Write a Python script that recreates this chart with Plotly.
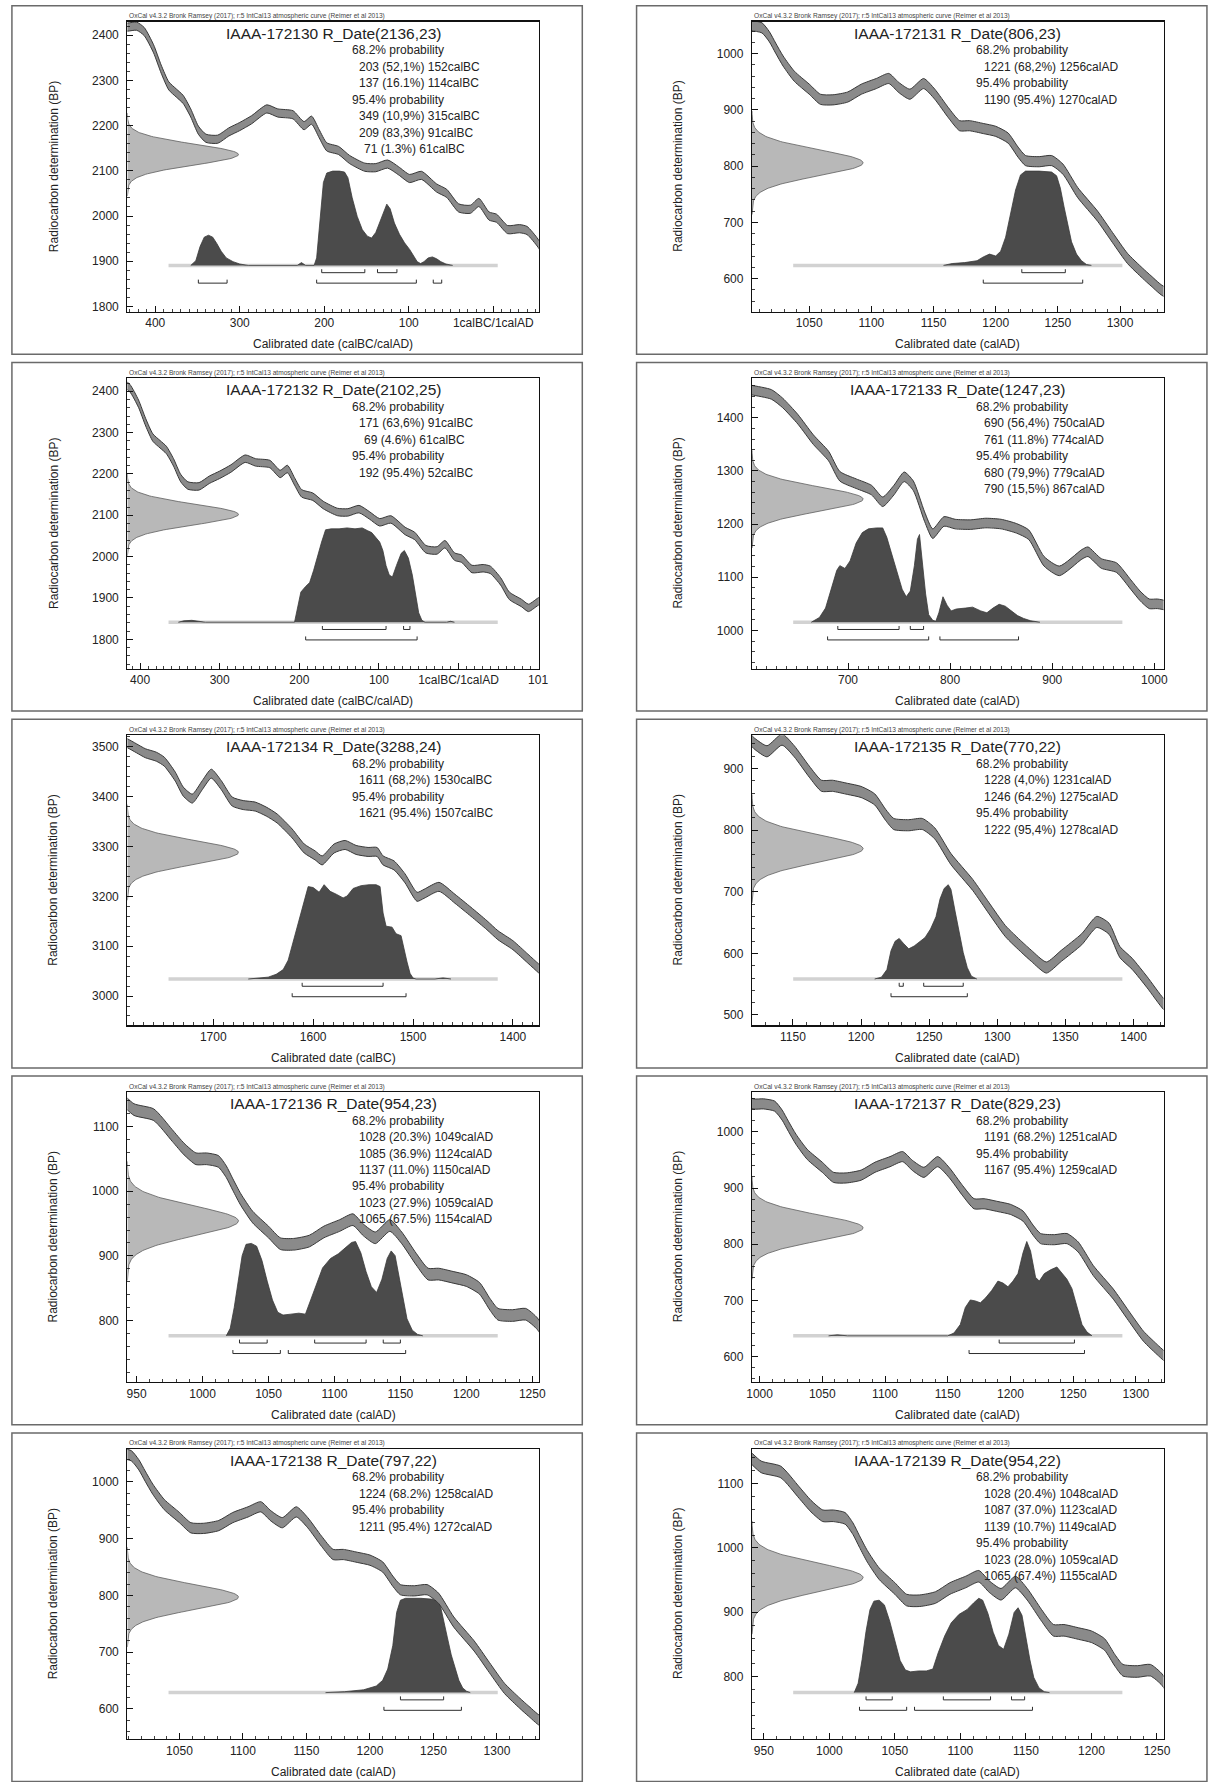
import numpy as np
import plotly.graph_objects as go

W, H = 1213, 1782
FONT = "Liberation Sans, Arial, sans-serif"

# ------------------------------------------------------------------ data
LAB_IDS = ["IAAA-172130", "IAAA-172131", "IAAA-172132", "IAAA-172133", "IAAA-172134",
           "IAAA-172135", "IAAA-172136", "IAAA-172137", "IAAA-172138", "IAAA-172139"]
R_DATE_BP = [2136, 806, 2102, 1247, 3288, 770, 954, 829, 797, 954]
R_DATE_ERR = [23, 23, 25, 23, 24, 22, 23, 23, 22, 22]
ERAS = ["BC", "AD", "BC", "AD", "BC", "AD", "AD", "AD", "AD", "AD"]
CURVE_FOR_PANEL = ["BC", "AD", "BC", "AD", "MBA", "AD", "AD", "AD", "AD", "AD"]

# axis extents (signed calendar years: BC negative) and radiocarbon BP
X_RANGES = [[-433, 54], [1004, 1335], [-416, 101], [606, 1009], [-1786, -1374],
            [1120, 1422], [943, 1255], [994, 1322], [1009, 1333], [941, 1255]]
Y_RANGES = [[1788, 2430], [541, 1057], [1729, 2431], [928, 1474], [2941, 3523],
            [483, 954], [705, 1153], [554, 1071], [547, 1058], [703, 1154]]

BC_TICKS_1 = [-400, -300, -200, -100, 0]
BC_LABELS_1 = ["400", "300", "200", "100", "1calBC/1calAD"]
BC_TICKS_2 = [-400, -300, -200, -100, 0, 100]
BC_LABELS_2 = ["400", "300", "200", "100", "1calBC/1calAD", "101"]
MBA_TICKS = [-1700, -1600, -1500, -1400]
MBA_LABELS = ["1700", "1600", "1500", "1400"]
AD_TICK_STEP = [None, 50, None, 100, None, 50, 50, 50, 50, 50]

# calibrated ranges: (from, percent, to) in era years
RANGES_68 = [
    [(203, "52,1", 152), (137, "16.1", 114)],
    [(1221, "68,2", 1256)],
    [(171, "63,6", 91), (69, "4.6", 61)],
    [(690, "56,4", 750), (761, "11.8", 774)],
    [(1611, "68,2", 1530)],
    [(1228, "4,0", 1231), (1246, "64.2", 1275)],
    [(1028, "20.3", 1049), (1085, "36.9", 1124), (1137, "11.0", 1150)],
    [(1191, "68.2", 1251)],
    [(1224, "68.2", 1258)],
    [(1028, "20.4", 1048), (1087, "37.0", 1123), (1139, "10.7", 1149)],
]
RANGES_95 = [
    [(349, "10,9", 315), (209, "83,3", 91), (71, "1.3", 61)],
    [(1190, "95.4", 1270)],
    [(192, "95.4", 52)],
    [(680, "79,9", 779), (790, "15,5", 867)],
    [(1621, "95.4", 1507)],
    [(1222, "95,4", 1278)],
    [(1023, "27.9", 1059), (1065, "67.5", 1154)],
    [(1167, "95.4", 1259)],
    [(1211, "95.4", 1272)],
    [(1023, "28.0", 1059), (1065, "67.4", 1155)],
]

# IntCal13 curve (centre, BP)
CURVE_BC_YEAR = [-445, -433, -422, -413, -402, -393, -384, -375, -367, -358, -349, -340, -326,
                 -313, -300, -286, -268, -255, -237, -224, -215, -206, -197, -183, -170, -152,
                 -139, -125, -112, -99, -85, -67, -55, -41, -27, -17, -5, 4, 17, 31, 40, 53,
                 64, 79, 88, 102, 108]
CURVE_BC_BP = [2420, 2418, 2420, 2408, 2370, 2325, 2288, 2272, 2258, 2228, 2190, 2172, 2170,
               2186, 2198, 2213, 2237, 2228, 2224, 2200, 2212, 2182, 2153, 2145, 2125, 2108,
               2107, 2115, 2100, 2083, 2090, 2062, 2050, 2018, 2015, 2030, 2000, 1995, 1970,
               1972, 1968, 1940, 1905, 1888, 1876, 1893, 1890]
CURVE_MBA_YEAR = [-1792, -1786, -1777, -1768, -1757, -1749, -1738, -1730, -1721, -1711, -1702,
                  -1692, -1681, -1670, -1658, -1647, -1636, -1621, -1609, -1598, -1591, -1579,
                  -1568, -1557, -1545, -1536, -1530, -1519, -1508, -1496, -1489, -1474, -1458,
                  -1442, -1426, -1415, -1400, -1385, -1374, -1368]
CURVE_MBA_BP = [3512, 3507, 3497, 3487, 3480, 3470, 3440, 3410, 3396, 3423, 3446, 3423, 3390,
                3383, 3380, 3370, 3356, 3326, 3296, 3282, 3272, 3296, 3303, 3293, 3289, 3289,
                3272, 3262, 3236, 3199, 3205, 3219, 3195, 3169, 3142, 3122, 3102, 3075, 3055,
                3045]
CURVE_AD_YEAR = [598, 606, 625, 636, 651, 666, 681, 692, 708, 723, 734, 745, 755, 764, 775, 783,
                 794, 805, 820, 835, 850, 865, 877, 892, 907, 929, 935, 948, 963, 977, 986, 995,
                 1003, 1012, 1018, 1023, 1029, 1038, 1050, 1059, 1069, 1081, 1092, 1104, 1114,
                 1122, 1131, 1142, 1151, 1162, 1171, 1179, 1190, 1200, 1210, 1218, 1224, 1235,
                 1245, 1254, 1266, 1282, 1294, 1306, 1318, 1325, 1336, 1347, 1362, 1373, 1382,
                 1390, 1399, 1410, 1422, 1428]
CURVE_AD_BP = [1455, 1452, 1444, 1428, 1397, 1359, 1328, 1290, 1276, 1264, 1242, 1264, 1289,
               1272, 1214, 1182, 1205, 1200, 1199, 1202, 1200, 1192, 1180, 1130, 1112, 1143,
               1148, 1126, 1118, 1086, 1065, 1050, 1050, 1046, 1030, 1010, 987, 960, 937, 919,
               918, 923, 937, 947, 956, 940, 928, 947, 928, 895, 872, 872, 867, 862, 850, 825,
               810, 808, 810, 795, 753, 711, 673, 636, 610, 596, 577, 596, 623, 651, 640, 602,
               583, 553, 518, 508]
CURVE_HALF_WIDTH_BP = 9

# posterior (calibrated) probability, relative to the maximum
POST_130_YEAR = [-358, -352, -347, -342, -337, -332, -327, -322, -316, -308, -300, -290, -232,
                 -227, -222, -212, -209, -205, -201, -197, -190, -182, -176, -172, -167, -161,
                 -155, -149, -144, -139, -134, -129, -126, -122, -117, -111, -105, -99, -94,
                 -90, -86, -82, -77, -72, -67, -62, -56, -48]
POST_130_PROB = [0, 0.05, 0.2, 0.3, 0.32, 0.3, 0.23, 0.15, 0.08, 0.04, 0.015, 0, 0, 0.03, 0, 0,
                 0.08, 0.5, 0.88, 0.98, 1.0, 1.0, 0.99, 0.93, 0.72, 0.52, 0.38, 0.31, 0.29, 0.35,
                 0.47, 0.6, 0.65, 0.6, 0.45, 0.33, 0.24, 0.17, 0.1, 0.04, 0.02, 0.04, 0.08, 0.09,
                 0.07, 0.04, 0.015, 0]
POST_131_YEAR = [1158, 1165, 1175, 1185, 1190, 1195, 1200, 1204, 1208, 1212, 1216, 1220, 1224,
                 1235, 1245, 1249, 1252, 1255, 1258, 1261, 1265, 1269, 1273, 1277]
POST_131_PROB = [0, 0.02, 0.03, 0.05, 0.09, 0.12, 0.1, 0.15, 0.3, 0.55, 0.8, 0.96, 1.0, 1.0,
                 0.99, 0.95, 0.82, 0.62, 0.42, 0.25, 0.12, 0.05, 0.01, 0]
POST_132_YEAR = [-352, -345, -335, -325, -318, -206, -202, -198, -192, -187, -182, -178, -172,
                 -167, -160, -150, -140, -130, -121, -114, -109, -104, -99, -95, -91, -87, -83,
                 -78, -72, -68, -63, -58, -54, -50, -46, -42, -15, -10, -5]
POST_132_PROB = [0, 0.015, 0.02, 0.01, 0, 0, 0.15, 0.32, 0.38, 0.42, 0.55, 0.68, 0.85, 0.98,
                 0.99, 0.99, 1.0, 0.99, 1.0, 0.97, 0.95, 0.9, 0.85, 0.76, 0.6, 0.5, 0.48, 0.6,
                 0.73, 0.76, 0.68, 0.5, 0.3, 0.1, 0.02, 0, 0, 0.01, 0]
POST_133_YEAR = [664, 672, 678, 684, 689, 692, 697, 702, 708, 714, 720, 728, 734, 738, 743, 748,
                 753, 757, 761, 765, 768, 770, 773, 776, 779, 783, 786, 789, 793, 797, 801, 806,
                 815, 822, 830, 836, 842, 848, 854, 860, 866, 872, 879, 888]
POST_133_PROB = [0, 0.05, 0.15, 0.36, 0.55, 0.6, 0.57, 0.65, 0.84, 0.95, 0.99, 1.0, 1.0, 0.9,
                 0.72, 0.52, 0.35, 0.27, 0.33, 0.6, 0.88, 0.93, 0.6, 0.3, 0.08, 0.02, 0.01, 0.1,
                 0.27, 0.18, 0.12, 0.14, 0.15, 0.16, 0.12, 0.1, 0.15, 0.19, 0.17, 0.12, 0.07,
                 0.04, 0.015, 0]
POST_134_YEAR = [-1665, -1655, -1645, -1637, -1630, -1625, -1621, -1616, -1612, -1608, -1605,
                 -1600, -1594, -1589, -1583, -1577, -1570, -1566, -1560, -1552, -1544, -1537,
                 -1533, -1530, -1527, -1521, -1517, -1512, -1509, -1506, -1503, -1500, -1497,
                 -1478, -1470, -1462]
POST_134_PROB = [0, 0.01, 0.02, 0.05, 0.1, 0.2, 0.36, 0.55, 0.72, 0.86, 0.98, 0.97, 0.92, 1.0,
                 0.93, 0.9, 0.86, 0.88, 0.96, 0.99, 1.0, 1.0, 0.98, 0.7, 0.56, 0.55, 0.48, 0.46,
                 0.3, 0.18, 0.06, 0.01, 0, 0, 0.012, 0]
POST_135_YEAR = [1210, 1215, 1219, 1222, 1225, 1228, 1231, 1235, 1239, 1243, 1247, 1251, 1255,
                 1258, 1261, 1264, 1266, 1269, 1272, 1275, 1278, 1281, 1285]
POST_135_PROB = [0, 0.02, 0.1, 0.3, 0.4, 0.43, 0.38, 0.32, 0.35, 0.4, 0.44, 0.53, 0.66, 0.85,
                 0.96, 1.0, 0.95, 0.72, 0.5, 0.28, 0.12, 0.03, 0]
POST_136_YEAR = [1018, 1021, 1024, 1027, 1030, 1033, 1037, 1041, 1045, 1049, 1053, 1057, 1061,
                 1067, 1073, 1078, 1082, 1086, 1091, 1097, 1103, 1108, 1113, 1116, 1120, 1124,
                 1128, 1132, 1136, 1140, 1143, 1146, 1149, 1152, 1155, 1159, 1163, 1167]
POST_136_PROB = [0, 0.08, 0.3, 0.58, 0.85, 0.97, 0.98, 0.95, 0.8, 0.58, 0.38, 0.25, 0.22, 0.23,
                 0.24, 0.23, 0.38, 0.55, 0.72, 0.82, 0.87, 0.93, 0.99, 1.0, 0.88, 0.68, 0.52,
                 0.46, 0.6, 0.82, 0.9, 0.85, 0.62, 0.38, 0.18, 0.06, 0.015, 0]
POST_137_YEAR = [1055, 1062, 1070, 1150, 1155, 1160, 1164, 1168, 1172, 1176, 1180, 1185, 1190,
                 1194, 1198, 1202, 1206, 1210, 1213, 1216, 1220, 1223, 1227, 1232, 1237, 1241,
                 1245, 1249, 1253, 1257, 1261, 1265]
POST_137_PROB = [0, 0.01, 0, 0, 0.03, 0.12, 0.3, 0.38, 0.37, 0.35, 0.4, 0.48, 0.58, 0.56, 0.52,
                 0.58, 0.66, 0.88, 1.0, 0.9, 0.62, 0.58, 0.66, 0.7, 0.73, 0.66, 0.6, 0.5, 0.3,
                 0.12, 0.04, 0]
POST_138_YEAR = [1165, 1180, 1195, 1205, 1210, 1214, 1218, 1221, 1224, 1228, 1240, 1250, 1255,
                 1258, 1261, 1264, 1267, 1270, 1273, 1276, 1279]
POST_138_PROB = [0, 0.01, 0.03, 0.07, 0.13, 0.25, 0.5, 0.85, 0.98, 1.0, 1.0, 0.99, 0.95, 0.78,
                 0.58, 0.4, 0.25, 0.13, 0.05, 0.015, 0]
POST_139_YEAR = [1019, 1022, 1025, 1028, 1031, 1034, 1038, 1042, 1046, 1050, 1054, 1058, 1062,
                 1068, 1074, 1079, 1083, 1088, 1093, 1099, 1105, 1110, 1114, 1117, 1121, 1125,
                 1129, 1133, 1137, 1141, 1144, 1147, 1150, 1153, 1156, 1160, 1164, 1168]
POST_139_PROB = [0, 0.1, 0.35, 0.65, 0.88, 0.97, 0.98, 0.93, 0.76, 0.54, 0.34, 0.24, 0.22, 0.23,
                 0.23, 0.25, 0.42, 0.6, 0.74, 0.83, 0.88, 0.95, 1.0, 0.98, 0.84, 0.64, 0.5,
                 0.46, 0.62, 0.85, 0.9, 0.82, 0.58, 0.35, 0.16, 0.05, 0.01, 0]

HEADER_TEXT = ("OxCal v4.3.2 Bronk Ramsey (2017); r:5 IntCal13 atmospheric curve "
               "(Reimer et al 2013)")

# ------------------------------------------------------------------ assembly
CURVES = {"BC": (CURVE_BC_YEAR, CURVE_BC_BP),
          "MBA": (CURVE_MBA_YEAR, CURVE_MBA_BP),
          "AD": (CURVE_AD_YEAR, CURVE_AD_BP)}
POSTERIORS = [(POST_130_YEAR, POST_130_PROB), (POST_131_YEAR, POST_131_PROB),
              (POST_132_YEAR, POST_132_PROB), (POST_133_YEAR, POST_133_PROB),
              (POST_134_YEAR, POST_134_PROB), (POST_135_YEAR, POST_135_PROB),
              (POST_136_YEAR, POST_136_PROB), (POST_137_YEAR, POST_137_PROB),
              (POST_138_YEAR, POST_138_PROB), (POST_139_YEAR, POST_139_PROB)]
X_TICKS = {0: (BC_TICKS_1, BC_LABELS_1), 2: (BC_TICKS_2, BC_LABELS_2), 4: (MBA_TICKS, MBA_LABELS)}

# geometry (pixels)
COL_X0 = [6, 639]
ROW_Y0 = [5.7 + 357.2 * r for r in range(5)]
FRAME_W, FRAME_H = 578, 349
PLOT_L, PLOT_R, PLOT_T, PLOT_B = 117, 534, 16, 306.5

BAND_FILL, BAND_LINE = "#8a8a8a", "#383838"
GAUSS_FILL, GAUSS_LINE = "#b8b8b8", "#5e5e5e"
POST_FILL, POST_LINE = "#4b4b4b", "#3a3a3a"
BASE_COLOR = "#d2d2d2"
TXT = "#222222"


def pxx(p):
    return p / W


def pxy(p):
    return 1 - p / H


def signed(y, era):
    return -y if era == "BC" else y


fig = go.Figure()
annotations, shapes, axes = [], [], {}

for i in range(10):
    r, c = divmod(i, 2)
    fx0, fy0 = COL_X0[c], ROW_Y0[r]
    k = i + 1
    xa = "x" if k == 1 else f"x{k}"
    ya = "y" if k == 1 else f"y{k}"
    xmin, xmax = X_RANGES[i]
    ymin, ymax = Y_RANGES[i]
    dx, dy = xmax - xmin, ymax - ymin
    era = ERAS[i]
    common = dict(xaxis=xa, yaxis=ya, hoverinfo="skip", showlegend=False, mode="lines")

    # measured radiocarbon date (normal distribution on BP axis)
    mu, sd = R_DATE_BP[i], R_DATE_ERR[i]
    z = np.linspace(-4, 4, 161)
    gx = xmin + 0.27 * dx * np.exp(-0.5 * z * z)
    gy = mu + z * sd
    fig.add_trace(go.Scatter(x=[xmin] + gx.tolist() + [xmin],
                             y=[gy[0]] + gy.tolist() + [gy[-1]],
                             fill="toself", fillcolor=GAUSS_FILL,
                             line=dict(color=GAUSS_LINE, width=0.8), **common))

    # baseline of calibrated distribution
    base = ymin + 0.16 * dy
    hgt = 0.325 * dy
    fig.add_trace(go.Scatter(x=[xmin + 0.1 * dx, xmin + 0.9 * dx], y=[base, base],
                             line=dict(color=BASE_COLOR, width=3.5), **common))

    # calibrated distribution
    py_, pp_ = POSTERIORS[i]
    fig.add_trace(go.Scatter(x=[py_[0]] + list(py_) + [py_[-1]],
                             y=[base] + [base + p * hgt for p in pp_] + [base],
                             fill="toself", fillcolor=POST_FILL,
                             line=dict(color=POST_LINE, width=0.8), **common))

    # calibration curve band
    cy, cb = CURVES[CURVE_FOR_PANEL[i]]
    fig.add_trace(go.Scatter(x=cy, y=[b + CURVE_HALF_WIDTH_BP for b in cb],
                             line=dict(color=BAND_LINE, width=1, shape="spline", smoothing=0.6),
                             **common))
    fig.add_trace(go.Scatter(x=cy, y=[b - CURVE_HALF_WIDTH_BP for b in cb],
                             fill="tonexty", fillcolor=BAND_FILL,
                             line=dict(color=BAND_LINE, width=1, shape="spline", smoothing=0.6),
                             **common))

    # range brackets
    bx, by = [], []
    tick = 0.012 * dy
    for rows, frac in ((RANGES_68[i], 0.135), (RANGES_95[i], 0.099)):
        yl = ymin + frac * dy
        for s, _, e in rows:
            a, b = signed(s, era), signed(e, era)
            bx += [a, a, b, b, None]
            by += [yl + tick, yl, yl, yl + tick, None]
    fig.add_trace(go.Scatter(x=bx, y=by, line=dict(color="#2e2e2e", width=1), **common))

    # axes
    xdom = [pxx(fx0 + PLOT_L), pxx(fx0 + PLOT_R)]
    ydom = [pxy(fy0 + PLOT_B), pxy(fy0 + PLOT_T)]
    ax_style = dict(showline=True, linecolor="#111111", linewidth=1.2, mirror=True,
                    ticks="inside", ticklen=6, tickwidth=1, tickcolor="#111111",
                    showgrid=False, zeroline=False,
                    tickfont=dict(family=FONT, size=12, color=TXT))
    xd = dict(domain=xdom, anchor=ya, range=[xmin, xmax], **ax_style,
              minor=dict(ticks="inside", ticklen=3, tickwidth=0.8, tickcolor="#111111",
                         tickmode="linear", tick0=0, dtick=10, showgrid=False))
    if i in X_TICKS:
        tv, tt = X_TICKS[i]
        xd.update(tickmode="array", tickvals=tv, ticktext=tt)
    else:
        xd.update(tickmode="linear", tick0=0, dtick=AD_TICK_STEP[i])
    yd = dict(domain=ydom, anchor=xa, range=[ymin, ymax], tickmode="linear", tick0=0,
              dtick=100, ticklabelstandoff=5, **ax_style,
              minor=dict(ticks="inside", ticklen=3, tickwidth=0.8, tickcolor="#111111",
                         tickmode="linear", tick0=0, dtick=20, showgrid=False))
    axes["xaxis" if k == 1 else f"xaxis{k}"] = xd
    axes["yaxis" if k == 1 else f"yaxis{k}"] = yd

    # frame
    shapes.append(dict(type="rect", xref="paper", yref="paper",
                       x0=pxx(fx0), x1=pxx(fx0 + FRAME_W),
                       y0=pxy(fy0 + FRAME_H), y1=pxy(fy0),
                       line=dict(color="#6a6a6a", width=1.5), fillcolor="rgba(0,0,0,0)",
                       layer="below"))

    pw = PLOT_R - PLOT_L
    cx = fx0 + (PLOT_L + PLOT_R) / 2

    def ann(x, y, text, size, xanchor="left", angle=0, color=TXT, xshift=0):
        annotations.append(dict(x=pxx(x), y=pxy(y), xref="paper", yref="paper", text=text,
                                showarrow=False, xanchor=xanchor, yanchor="middle",
                                textangle=angle, xshift=xshift,
                                font=dict(family=FONT, size=size, color=color)))

    ann(fx0 + PLOT_L, fy0 + 10.5, HEADER_TEXT, 6.6, color="#444444")
    ann(cx, fy0 + 27.5, f"{LAB_IDS[i]} R_Date({R_DATE_BP[i]},{R_DATE_ERR[i]})", 15.5,
        xanchor="center")
    lines = []
    alld = [len(str(s)) for s, _, _ in RANGES_68[i] + RANGES_95[i]]
    maxd = max(alld)
    lines.append(("h", "68.2% probability", 0))
    for s, p, e in RANGES_68[i]:
        lines.append(("r", f"{s} ({p}%) {e}cal{era}", (maxd - len(str(s))) * 5))
    lines.append(("h", "95.4% probability", 0))
    for s, p, e in RANGES_95[i]:
        lines.append(("r", f"{s} ({p}%) {e}cal{era}", (maxd - len(str(s))) * 5))
    for j, (kind, txt, sh) in enumerate(lines):
        xx = fx0 + PLOT_L + (0.54 if kind == "h" else 0.559) * pw
        ann(xx, fy0 + 44.5 + 16.5 * j, txt, 12, xshift=sh)

    xtitle = "Calibrated date (calBC/calAD)" if era == "BC" and i != 4 else (
        "Calibrated date (calBC)" if i == 4 else "Calibrated date (calAD)")
    ann(cx, fy0 + 339, xtitle, 12, xanchor="center")
    ann(fx0 + 42, fy0 + (PLOT_T + PLOT_B) / 2, "Radiocarbon determination (BP)", 12,
        xanchor="center", angle=-90)

fig.update_layout(width=W, height=H, margin=dict(l=0, r=0, t=0, b=0),
                  paper_bgcolor="white", plot_bgcolor="white", showlegend=False,
                  hovermode=False,
                  annotations=annotations, shapes=shapes, **axes)
fig.write_html("out.html",
               config={"displayModeBar": False, "staticPlot": True},
               post_script="document.body.style.margin='0px';"
                           "document.body.style.overflow='hidden';")
